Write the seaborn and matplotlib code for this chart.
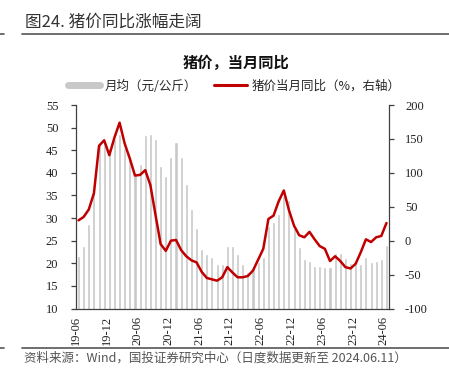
import numpy as np
import pandas as pd
import matplotlib
matplotlib.use("Agg")
import matplotlib.pyplot as plt
from matplotlib.lines import Line2D
import seaborn as sns

# 月份：2019-06 ~ 2024-06
months = pd.date_range("2019-06-01", "2024-06-01", freq="MS").strftime("%y-%m").tolist()

# 月均猪价（元/公斤）
price = [21.6, 23.8, 28.6, 36.0, 46.7, 47.0, 45.5, 47.5, 48.5, 45.5,
         43.5, 39.5, 42.0, 48.4, 48.6, 47.4, 41.6, 39.4, 43.4, 46.9,
         43.4, 37.6, 32.0, 27.7, 23.2, 22.1, 21.3, 19.9, 19.9, 23.9,
         23.9, 22.1, 19.9, 18.0, 18.8, 20.3, 21.5, 28.3, 29.1, 31.0,
         34.8, 34.0, 27.8, 23.7, 21.0, 20.5, 19.4, 19.4, 19.2, 19.2,
         22.3, 22.3, 21.2, 20.1, 20.1, 19.9, 21.5, 20.2, 20.4, 21.0,
         24.0]

# 猪价当月同比（%）
yoy = [30, 35, 46, 70, 140, 148, 126, 152, 174, 143,
       121, 96, 97, 104, 82, 38, -5, -15, 0, 1,
       -14, -23, -29, -32, -46, -55, -57, -59, -54, -39,
       -47, -54, -54, -52, -44, -28, -12, 32, 37, 58,
       74, 45, 22, 8, 5, 13, 2, -8, -12, -30,
       -23, -30, -39, -41, -34, -17, 2, -2, 5, 7,
       26]

tick_labels = ["19-06", "19-12", "20-06", "20-12", "21-06", "21-12",
               "22-06", "22-12", "23-06", "23-12", "24-06"]

BAR_C = "#c8c8c8"
LINE_C = "#c00000"
AX_C = "#404040"
CJK = ["Noto Sans CJK SC", "DejaVu Sans"]
SERIF = ["Liberation Serif", "Noto Sans CJK SC"]

sns.set_style("white")
plt.rcParams["font.family"] = SERIF
plt.rcParams["axes.unicode_minus"] = False

df = pd.DataFrame({"month": months, "price": price, "yoy": yoy, "pos": np.arange(len(months))})

fig = plt.figure(figsize=(4.49, 3.83), dpi=100)
ax = fig.add_axes([0.1686, 0.1945, 0.6978, 0.5313])

sns.barplot(data=df, x="month", y="price", color=BAR_C, width=0.6,
            saturation=1, ax=ax, zorder=1)
ax.set_ylim(10, 55)
ax.set_yticks(np.arange(10, 56, 5))
ax.set_xlim(-0.55, 60.5)
ax.set_xticks(np.arange(0, 61, 6) - 0.5)
ax.set_xticklabels(tick_labels, rotation=90, fontsize=9, family=SERIF)
ax.set_xlabel("")
ax.set_ylabel("")

ax2 = ax.twinx()
sns.lineplot(data=df, x="pos", y="yoy", color=LINE_C, linewidth=1.8, ax=ax2,
             solid_joinstyle="round", solid_capstyle="round")
ax2.set_ylim(-100, 200)
ax2.set_yticks(np.arange(-100, 201, 50))
ax2.set_xlim(-0.55, 60.5)
ax2.set_ylabel("")
ax2.set_xlabel("")

for a in (ax, ax2):
    a.spines["top"].set_visible(False)
    for s in ("left", "right", "bottom"):
        a.spines[s].set_color(AX_C)
        a.spines[s].set_linewidth(0.9)
    a.tick_params(axis="both", direction="out", length=3.5, width=0.9,
                  color=AX_C, labelsize=9, labelcolor="#222222")
ax.spines["right"].set_visible(False)
ax2.spines["left"].set_visible(False)
ax2.spines["bottom"].set_visible(False)
ax.tick_params(axis="y", pad=9)
ax2.tick_params(axis="y", pad=8)
ax.tick_params(axis="x", pad=2)
ax.grid(False)
ax2.grid(False)

# 标题、分隔线、图例、来源
fig.text(0.0557, 0.9426, "图24. 猪价同比涨幅走阔", family=CJK, fontsize=12,
         color="#333333", va="center", ha="left")
fig.add_artist(Line2D([0.049, 1.0], [0.9125, 0.9125], color="#555555", lw=1.2))
fig.add_artist(Line2D([0.0, 0.008], [0.9125, 0.9125], color="#555555", lw=1.2))
fig.text(0.5256, 0.8355, "猪价，当月同比", family=CJK, fontsize=11,
         fontweight="bold", color="#111111", va="center", ha="center")

handles = [Line2D([0], [0], color=BAR_C, lw=5),
           Line2D([0], [0], color=LINE_C, lw=2.2)]
fig.legend(handles, ["月均（元/公斤）", "猪价当月同比（%，右轴）"], ncol=2,
           loc="center", bbox_to_anchor=(0.521, 0.7755), frameon=False,
           prop={"family": CJK, "size": 9}, handlelength=2.6,
           handletextpad=0.35, columnspacing=1.4, borderaxespad=0)

fig.add_artist(Line2D([0.049, 1.0], [0.0906, 0.0906], color="#555555", lw=1.2))
fig.add_artist(Line2D([0.0, 0.008], [0.0906, 0.0906], color="#555555", lw=1.2))
fig.text(0.0535, 0.0653, "资料来源：Wind，国投证券研究中心（日度数据更新至 2024.06.11）",
         family=CJK, fontsize=9, color="#555555", style="italic",
         va="center", ha="left")

fig.savefig("out.png", dpi=100)
